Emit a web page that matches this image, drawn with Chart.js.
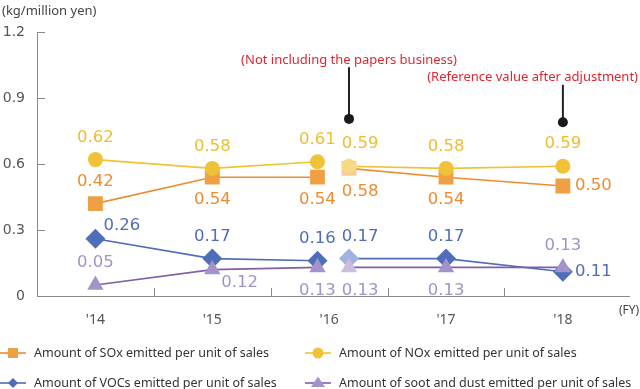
<!DOCTYPE html>
<html lang="en">
<head>
<meta charset="UTF-8">
<title>Emissions per unit of sales</title>
<script src="https://cdn.jsdelivr.net/npm/chart.js"></script>
<style>
  html, body { margin: 0; padding: 0; background: #fff; overflow: hidden; }
  #wrap { position: relative; width: 640px; height: 389px; font-family: "Noto Sans", sans-serif; }
  #c { display: block; }
  #unit { position: absolute; left: 2px; top: 1px; font-size: 13px; color: #444; }
  #fy { position: absolute; left: 619px; top: 301px; font-size: 12px; color: #444; }
  .leg { position: absolute; height: 20px; font-size: 12.5px; line-height: 20px; color: #333; display: flex; align-items: center; white-space: nowrap; }
  .leg svg { margin-right: 8px; display: block; }
</style>
</head>
<body>
<div id="wrap">
  <canvas id="c" width="640" height="389"></canvas>
  <div id="unit">(kg/million yen)</div>
  <div id="fy">(FY)</div>
  <div id="legend"></div>
</div>
<script>
// fiscal years shown on the axis
const yearLabels = ["'14", "'15", "'16", "'17", "'18"];
const firstYear = 14;
// '16 appears twice: as reported, then the reference value after adjustment
const pointYears = [14, 15, 15.9, 16.17, 17, 18];
const adjustedIndex = 3;

const soxValues  = [0.42, 0.54, 0.54, 0.58, 0.54, 0.50];
const noxValues  = [0.62, 0.58, 0.61, 0.59, 0.58, 0.59];
const vocValues  = [0.26, 0.17, 0.16, 0.17, 0.17, 0.11];
const sootValues = [0.05, 0.12, 0.13, 0.13, 0.13, 0.13];

const seriesNames = [
  'Amount of SOx emitted per unit of sales',
  'Amount of NOx emitted per unit of sales',
  'Amount of VOCs emitted per unit of sales',
  'Amount of soot and dust emitted per unit of sales'
];

// where each value label sits relative to its point
const soxLabelPos  = ['top', 'bottom', 'bottom', 'bottom', 'bottom', 'right'];
const noxLabelPos  = ['top', 'top', 'top', 'top', 'top', 'top'];
const vocLabelPos  = ['topright', 'top', 'top', 'top', 'top', 'right'];
const sootLabelPos = ['top', 'bottomright', 'bottom', 'bottom', 'bottom', 'top'];

const notes = [
  { text: '(Not including the papers business)', x: 16.17, textY: 1.07, top: 1.04, dot: 0.805, align: 'center' },
  { text: '(Reference value after adjustment)', x: 18, textY: 0.995, top: 0.96, dot: 0.79, align: 'right' }
];

function pts(vals) { return vals.map((v, i) => ({ x: pointYears[i], y: v })); }
function perPoint(main, light) { return pointYears.map((_, i) => i === adjustedIndex ? light : main); }

const styles = [
  { line: '#EE8C32', main: '#F0A044', light: '#F8C898', text: '#EE8C32', shape: 'rect', r: 10.5 },
  { line: '#F0C234', main: '#F0C238', light: '#F8DA84', text: '#EEBE30', shape: 'circle', r: 7.5 },
  { line: '#4F6DB8', main: '#4F6DB8', light: '#A0B2E0', text: '#4F6DB8', shape: 'rectRot', r: 10 },
  { line: '#7F5FA8', main: '#A393C8', light: '#CBBEE0', text: '#A393C8', shape: 'triangle', r: 9.5 }
];
const allValues = [soxValues, noxValues, vocValues, sootValues];
const allLabelPos = [soxLabelPos, noxLabelPos, vocLabelPos, sootLabelPos];
const drawOrder = [3, 1, 4, 2];

const datasets = allValues.map((vals, k) => ({
  label: seriesNames[k],
  data: pts(vals),
  borderColor: styles[k].line,
  borderWidth: 1.6,
  pointStyle: styles[k].shape,
  pointRadius: styles[k].r,
  pointHoverRadius: styles[k].r,
  pointBorderWidth: 0,
  pointBackgroundColor: perPoint(styles[k].main, styles[k].light),
  order: drawOrder[k],
  segment: { borderColor: c => c.p0DataIndex === adjustedIndex - 1 ? 'rgba(0,0,0,0)' : undefined }
}));

const FONT = '"Noto Sans", sans-serif';
const NUMFONT = '"DejaVu Sans", sans-serif';

const decorPlugin = {
  id: 'decor',
  beforeDatasetsDraw(chart) {
    const { ctx } = chart;
    const x = chart.scales.x, y = chart.scales.y;
    ctx.save();
    ctx.strokeStyle = '#8a8a8a';
    ctx.lineWidth = 1;
    // inward tick marks between the years
    for (let v = firstYear + 0.5; v < firstYear + yearLabels.length - 0.5; v++) {
      const px = Math.round(x.getPixelForValue(v)) + 0.5;
      ctx.beginPath(); ctx.moveTo(px, y.bottom); ctx.lineTo(px, y.bottom - 8); ctx.stroke();
    }
    y.ticks.forEach(t => {
      if (t.value === 0) return;
      const py = Math.round(y.getPixelForValue(t.value)) + 0.5;
      ctx.beginPath(); ctx.moveTo(x.left, py); ctx.lineTo(x.left + 8, py); ctx.stroke();
    });
    ctx.restore();
  },
  afterDatasetsDraw(chart) {
    const { ctx } = chart;
    const x = chart.scales.x, y = chart.scales.y;
    ctx.save();
    // value labels
    ctx.font = '16.5px ' + NUMFONT;
    chart.data.datasets.forEach((ds, k) => {
      const meta = chart.getDatasetMeta(k);
      meta.data.forEach((pt, i) => {
        const pos = allLabelPos[k][i];
        let lx = pt.x, ly = pt.y, align = 'center';
        if (pos === 'top') ly -= 22;
        else if (pos === 'bottom') ly += 23;
        else if (pos === 'right') { lx += 12; align = 'left'; }
        else if (pos === 'topright') { lx += 8; ly -= 13; align = 'left'; }
        else if (pos === 'bottomright') { lx += 9; ly += 13; align = 'left'; }
        // adjusted value labels lean right so they clear the '16 labels
        if (i === adjustedIndex) lx += 11;
        ctx.fillStyle = styles[k].text;
        ctx.textAlign = align;
        ctx.textBaseline = 'middle';
        ctx.fillText(allValues[k][i].toFixed(2), lx, ly);
      });
    });
    // notes with pointer lines
    ctx.font = '13px ' + FONT;
    notes.forEach(n => {
      const px = x.getPixelForValue(n.x);
      ctx.strokeStyle = '#222';
      ctx.lineWidth = 2;
      ctx.beginPath();
      ctx.moveTo(px, y.getPixelForValue(n.top));
      ctx.lineTo(px, y.getPixelForValue(n.dot));
      ctx.stroke();
      ctx.fillStyle = '#1a1a1a';
      ctx.beginPath(); ctx.arc(px, y.getPixelForValue(n.dot), 5, 0, Math.PI * 2); ctx.fill();
      ctx.fillStyle = '#E0262F';
      ctx.textBaseline = 'middle';
      if (n.align === 'right') { ctx.textAlign = 'right'; ctx.fillText(n.text, chart.width - 2, y.getPixelForValue(n.textY)); }
      else { ctx.textAlign = 'center'; ctx.fillText(n.text, px, y.getPixelForValue(n.textY)); }
    });
    ctx.restore();
  }
};

new Chart(document.getElementById('c'), {
  type: 'line',
  data: { datasets },
  plugins: [decorPlugin],
  options: {
    responsive: false,
    animation: false,
    layout: { padding: { top: 32, right: 4, left: 0, bottom: 0 } },
    plugins: { legend: { display: false }, tooltip: { enabled: false } },
    scales: {
      x: {
        type: 'linear',
        min: firstYear - 0.5,
        max: firstYear + yearLabels.length - 0.43,
        afterBuildTicks: s => { s.ticks = yearLabels.map((_, i) => ({ value: firstYear + i })); },
        afterFit: s => { s.height = 93; },
        ticks: {
          callback: v => yearLabels[v - firstYear],
          color: '#555', font: { family: FONT, size: 14 }, padding: 16, maxRotation: 0
        },
        grid: { drawOnChartArea: false, drawTicks: false },
        border: { color: '#8a8a8a', width: 1 }
      },
      y: {
        min: 0, max: 1.2,
        afterBuildTicks: s => { s.ticks = [0, 0.3, 0.6, 0.9, 1.2].map(v => ({ value: v })); },
        afterFit: s => { s.width = 37; },
        ticks: {
          callback: v => v === 0 ? '0' : v.toFixed(1),
          color: '#555', font: { family: NUMFONT, size: 14 }, padding: 12
        },
        grid: { drawOnChartArea: false, drawTicks: false },
        border: { color: '#8a8a8a', width: 1 }
      }
    }
  }
});

// legend below the plot, two columns
const legendSpots = [[0, 343], [305, 343], [0, 373], [305, 373]];
function markerSvg(k) {
  const s = styles[k];
  let shape;
  if (s.shape === 'rect') shape = '<rect x="8" y="5" width="10" height="10" fill="' + s.main + '"/>';
  else if (s.shape === 'circle') shape = '<circle cx="13" cy="10" r="5.5" fill="' + s.main + '"/>';
  else if (s.shape === 'rectRot') shape = '<polygon points="13,5 18,10 13,15 8,10" fill="' + s.main + '"/>';
  else shape = '<polygon points="13,3.5 20,14 6,14" fill="' + s.main + '"/>';
  return '<svg width="26" height="20"><line x1="0" y1="10" x2="26" y2="10" stroke="' + s.line + '" stroke-width="1.6"/>' + shape + '</svg>';
}
document.getElementById('legend').innerHTML = seriesNames.map((n, k) =>
  '<div class="leg" style="left:' + legendSpots[k][0] + 'px;top:' + legendSpots[k][1] + 'px">' + markerSvg(k) + '<span>' + n + '</span></div>'
).join('');
</script>
</body>
</html>
